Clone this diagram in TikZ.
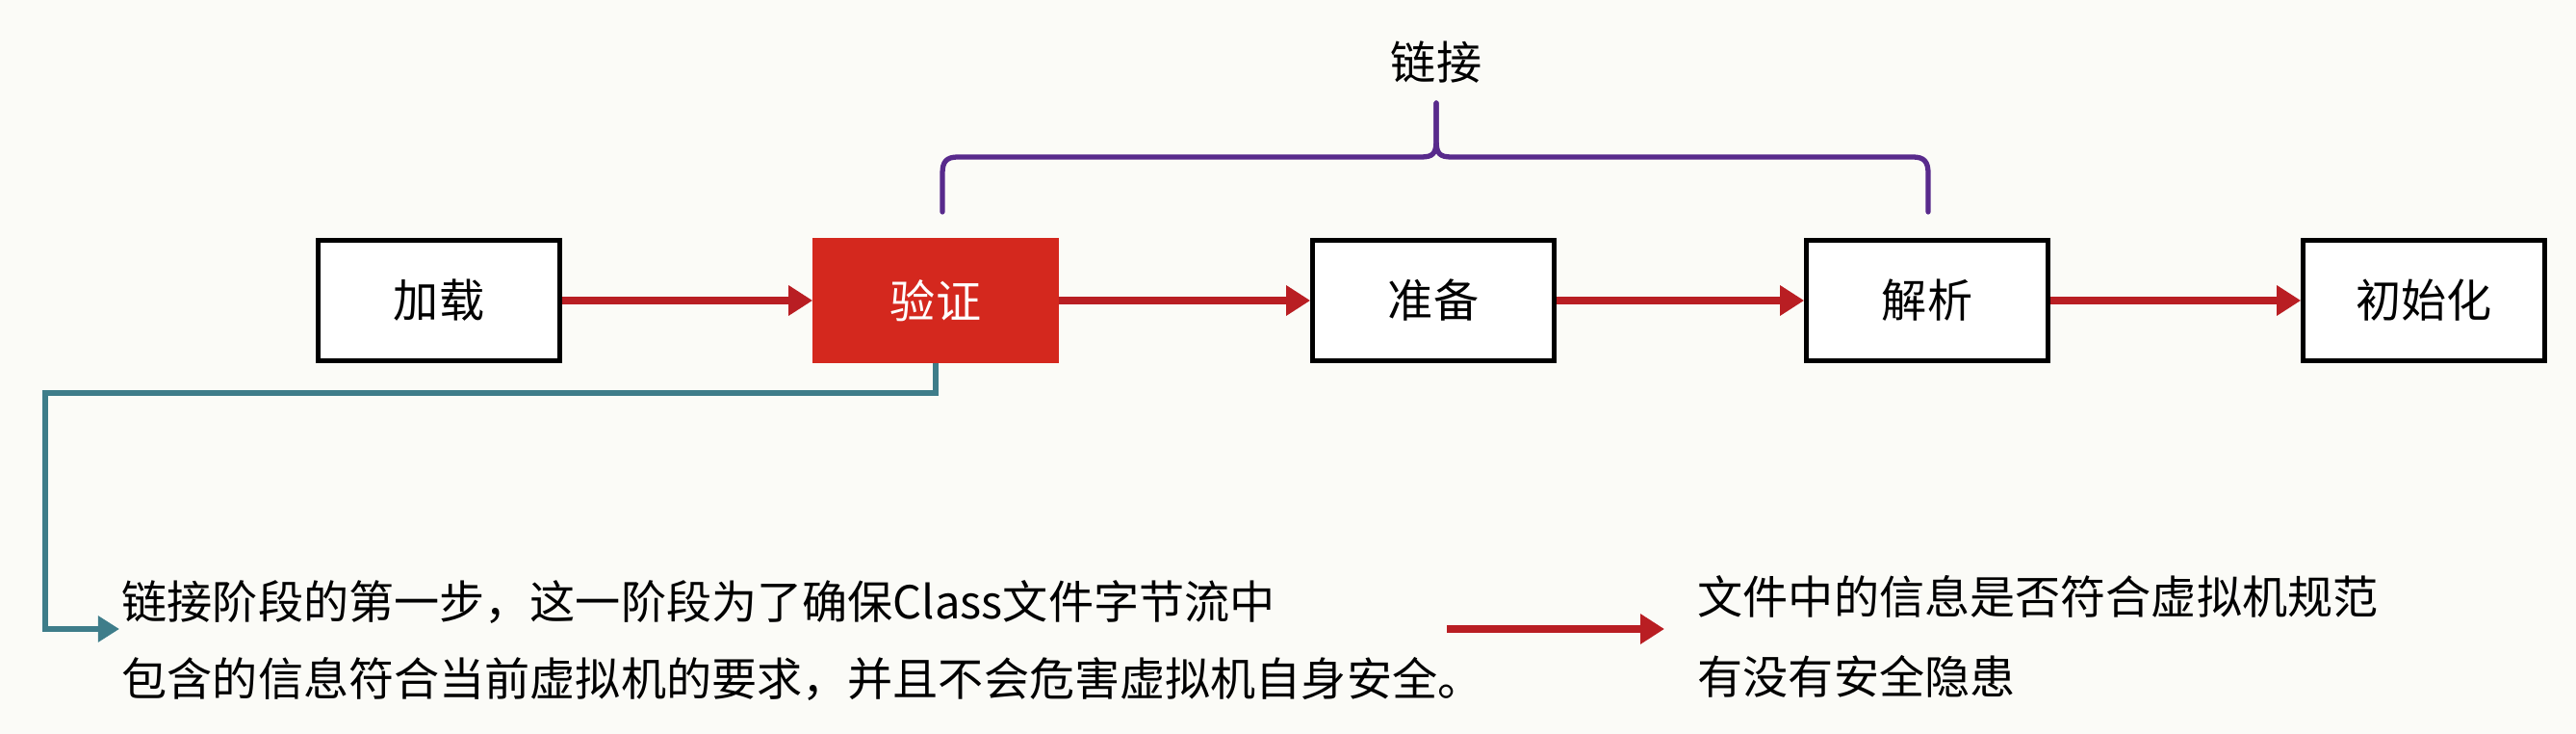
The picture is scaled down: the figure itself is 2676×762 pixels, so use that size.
\documentclass[tikz,border=0pt]{standalone}
\usepackage{fontspec}
\setmainfont{Noto Sans CJK SC}
\usetikzlibrary{arrows.meta}
\definecolor{bgc}{RGB}{251,251,247}
\definecolor{redfill}{RGB}{212,40,30}
\definecolor{arrowred}{RGB}{185,30,35}
\definecolor{purp}{RGB}{88,42,140}
\definecolor{tealc}{RGB}{62,125,138}
\begin{document}
\begin{tikzpicture}[x=0.01cm,y=-0.01cm,
  stage/.style={draw=black, line width=1.3pt, fill=white, minimum width=2.51cm, minimum height=1.25cm, inner sep=0pt, font=\fontsize{13.4pt}{16pt}\selectfont},
  hot/.style={stage, draw=redfill, fill=redfill, text=white},
  redarrow/.style={draw=arrowred, line width=2pt, -{Triangle[length=0.25cm,width=0.3cm]}},
  tealarrow/.style={draw=tealc, line width=1.7pt, -{Triangle[length=0.22cm,width=0.26cm]}},
  brace/.style={draw=purp, line width=1.5pt, line cap=round, line join=round},
  desc/.style={inner sep=0pt, anchor=base west, font=\fontsize{13.4pt}{16pt}\selectfont}
]
\useasboundingbox[fill=bgc] (0,0) rectangle (2676,762);

\node[stage] (jz) at (456,312) {加载};
\node[hot]   (yz) at (972,312) {验证};
\node[stage] (zb) at (1489,312) {准备};
\node[stage] (jx) at (2002,312) {解析};
\node[stage] (csh) at (2518,312) {初始化};

\draw[redarrow] (jz) -- (yz);
\draw[redarrow] (yz) -- (zb);
\draw[redarrow] (zb) -- (jx);
\draw[redarrow] (jx) -- (csh);

% brace
\draw[brace] (979,220) -- (979,180) .. controls (979,168) and (983,163) .. (995,163)
  -- (1476,163) .. controls (1488,163) and (1492,160) .. (1492,146) -- (1492,107);
\draw[brace] (2003,220) -- (2003,180) .. controls (2003,168) and (1999,163) .. (1987,163)
  -- (1508,163) .. controls (1496,163) and (1492,160) .. (1492,146) -- (1492,107);
\node[font=\fontsize{13.4pt}{16pt}\selectfont] (lj) at (1492,65) {链接};

% description
\node[desc] (d1) at (126,643) {链接阶段的第一步，这一阶段为了确保Class文件字节流中};
\node[desc] (d2) at (126,723) {包含的信息符合当前虚拟机的要求，并且不会危害虚拟机自身安全。};
\coordinate (tin) at (124,653);
\draw[tealarrow] (yz.south) |- (47,408) |- (tin);

\coordinate (ra) at (1503,653);
\coordinate (rb) at (1729,653);
\draw[redarrow] (ra) -- (rb);

\node[desc] (r1) at (1763,638) {文件中的信息是否符合虚拟机规范};
\node[desc] (r2) at (1763,721) {有没有安全隐患};
\end{tikzpicture}
\end{document}
